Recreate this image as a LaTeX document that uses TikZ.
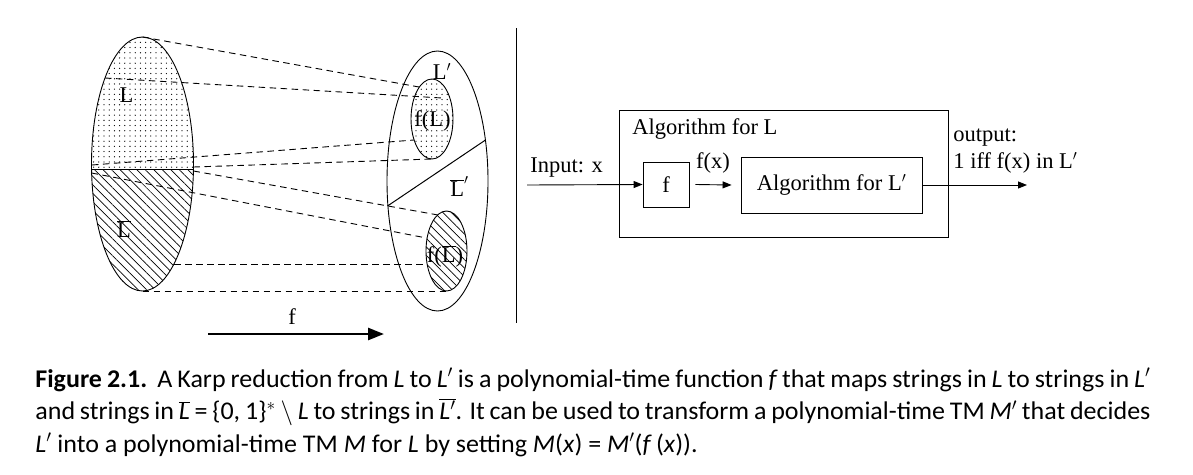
\documentclass[tikz,border=0pt]{standalone}
\usepackage{fontspec}
\setmainfont{Liberation Serif}
\newfontfamily\capfont[FakeStretch=1.02]{Carlito}
\usetikzlibrary{patterns.meta,arrows.meta,shapes.geometric}
\begin{document}
\begin{tikzpicture}[x=1pt,y=-1pt,line width=0.8pt,
  lbl/.style={font=\fontsize{22.5}{26}\selectfont,inner sep=0pt},
  dline/.style={dash pattern=on 6.5pt off 4.5pt,line width=0.9pt},
  boxnode/.style={draw,rectangle,inner sep=0pt,line width=0.9pt,font=\fontsize{22.5}{26}\selectfont},
  arr/.style={-{Triangle[length=9pt,width=7pt]},line width=0.9pt},
  ell/.style={draw,ellipse,inner sep=0pt,line width=0.9pt},
  dotfill/.style={pattern={Dots[distance=5.2pt,radius=0.65pt]}},
  hatchfill/.style={pattern={Lines[angle=-45,distance=6pt,line width=0.7pt]}},
  capline/.style={font=\capfont\fontsize{25.5}{30}\selectfont,inner sep=0pt,anchor=base west}]
\useasboundingbox (0,0) rectangle (1193,474);

% ---------- left part ----------
\begin{scope}
  \clip (142.5,164) ellipse [x radius=51pt,y radius=127pt];
  \fill[dotfill] (80,30) rectangle (200,169.5);
  \fill[hatchfill] (80,169.5) rectangle (200,300);
\end{scope}
\fill[dotfill] (432,119) ellipse [x radius=21pt,y radius=40pt];
\fill[hatchfill] (446.5,251) ellipse [x radius=20.5pt,y radius=40pt];

\node[ell,minimum width=102pt,minimum height=254pt] (A) at (142.5,164) {};
\node[ell,minimum width=101pt,minimum height=260pt] (B) at (437.5,181) {};
\node[ell,minimum width=42pt,minimum height=80pt] (C) at (432,119) {};
\node[ell,minimum width=41pt,minimum height=80pt] (D) at (446.5,251) {};

\coordinate (dl) at (91.55,169.5);
\coordinate (dr) at (193.45,169.5);
\draw[line width=1pt] (dl) -- (dr);
\coordinate (rl) at (387.5,206);
\coordinate (rr) at (485.5,140);
\draw[line width=1pt] (rl) -- (rr);

% dashed correspondences
\coordinate (s1) at (142.5,37);   \coordinate (e1) at (419,87);
\coordinate (s2) at (105,78);     \coordinate (e2) at (442,98);
\coordinate (s3) at (92,165);     \coordinate (e3) at (414,140);
\coordinate (s4) at (193.5,167);  \coordinate (e4) at (432,159);
\coordinate (s5) at (193.5,171);  \coordinate (e5) at (438,215);
\coordinate (s6) at (91.6,173);   \coordinate (e6) at (426.5,238);
\coordinate (s7) at (174,264);    \coordinate (e7) at (427,264);
\coordinate (s8) at (142.5,291);  \coordinate (e8) at (446.5,291);
\foreach \i in {1,...,8} {\draw[dline] (s\i) -- (e\i);}

\node[lbl,anchor=base] (lL) at (126.5,102.5) {L};
\node[lbl,anchor=base] (lLb) at (124,237) {$\overline{\mbox{L}}$};
\node[lbl,anchor=base west] (lLp) at (432.5,79) {L$'$};
\node[lbl,anchor=base west] (lLbp) at (450,196) {$\overline{\mbox{L}}'$};
\node[lbl,anchor=base] (lfL) at (432.5,126) {f(L)};
\node[lbl,anchor=base] (lfLb) at (445,262) {f($\overline{\mbox{L}}$)};

\coordinate (fa) at (208,334);
\coordinate (fb) at (384,334);
\draw[-{Triangle[length=16pt,width=12pt]},line width=2.6pt] (fa) -- (fb);
\node[lbl,anchor=base] (fl) at (292,324) {f};

% separator
\coordinate (v1) at (516.5,28);
\coordinate (v2) at (516.5,323);
\draw[line width=1pt] (v1) -- (v2);

% ---------- right part ----------
\node[boxnode,minimum width=329pt,minimum height=127pt] (O) at (783.5,173.5) {};
\node[lbl,anchor=base west] (Ot) at (632,134) {Algorithm for L};
\node[boxnode,minimum width=46pt,minimum height=45pt] (F) at (666,184.5) {f};
\node[boxnode,minimum width=181pt,minimum height=56pt] (I) at (831.5,185) {Algorithm for L$'$};
\node[lbl,anchor=base west] (inp) at (530,172) {Input: x};
\coordinate (inS) at (527,185);
\draw[arr] (inS) -- (F.west);
\draw[arr] ([xshift=6pt]F.east) -- ([xshift=-9pt]I.west);
\node[lbl,anchor=base] (fx) at (713,168) {f(x)};
\coordinate (outE) at (1027,185);
\draw[arr] (I.east) -- (outE);
\node[lbl,anchor=base west] (o1) at (953,141.5) {output:};
\node[lbl,anchor=base west] (o2) at (953,168) {1 iff f(x) in L$'$};

% ---------- caption ----------
\node[capline] (c1) at (35,387) {\hbox to 1115pt{\textbf{Figure 2.1.}\ \ A Karp reduction from \textit{L} to \textit{L}$'$ is a polynomial-time function \textit{f}\,that maps strings in \textit{L} to strings in \textit{L}$'$}};
\node[capline] (c2) at (35,419.5) {\hbox to 1115pt{and strings in $\overline{\mbox{\textit{L}}}$ = \{0, 1\}$^*$ $\setminus$ \textit{L} to strings in $\overline{\mbox{\textit{L}$'$}}$. It can be used to transform a polynomial-time TM \textit{M}$'$ that decides}};
\node[capline] (c3) at (35,452) {\textit{L}$'$ into a polynomial-time TM \textit{M} for \textit{L} by setting \textit{M}(\textit{x}) = \textit{M}$'$(\textit{f}\,(\textit{x})).};
\end{tikzpicture}
\end{document}
